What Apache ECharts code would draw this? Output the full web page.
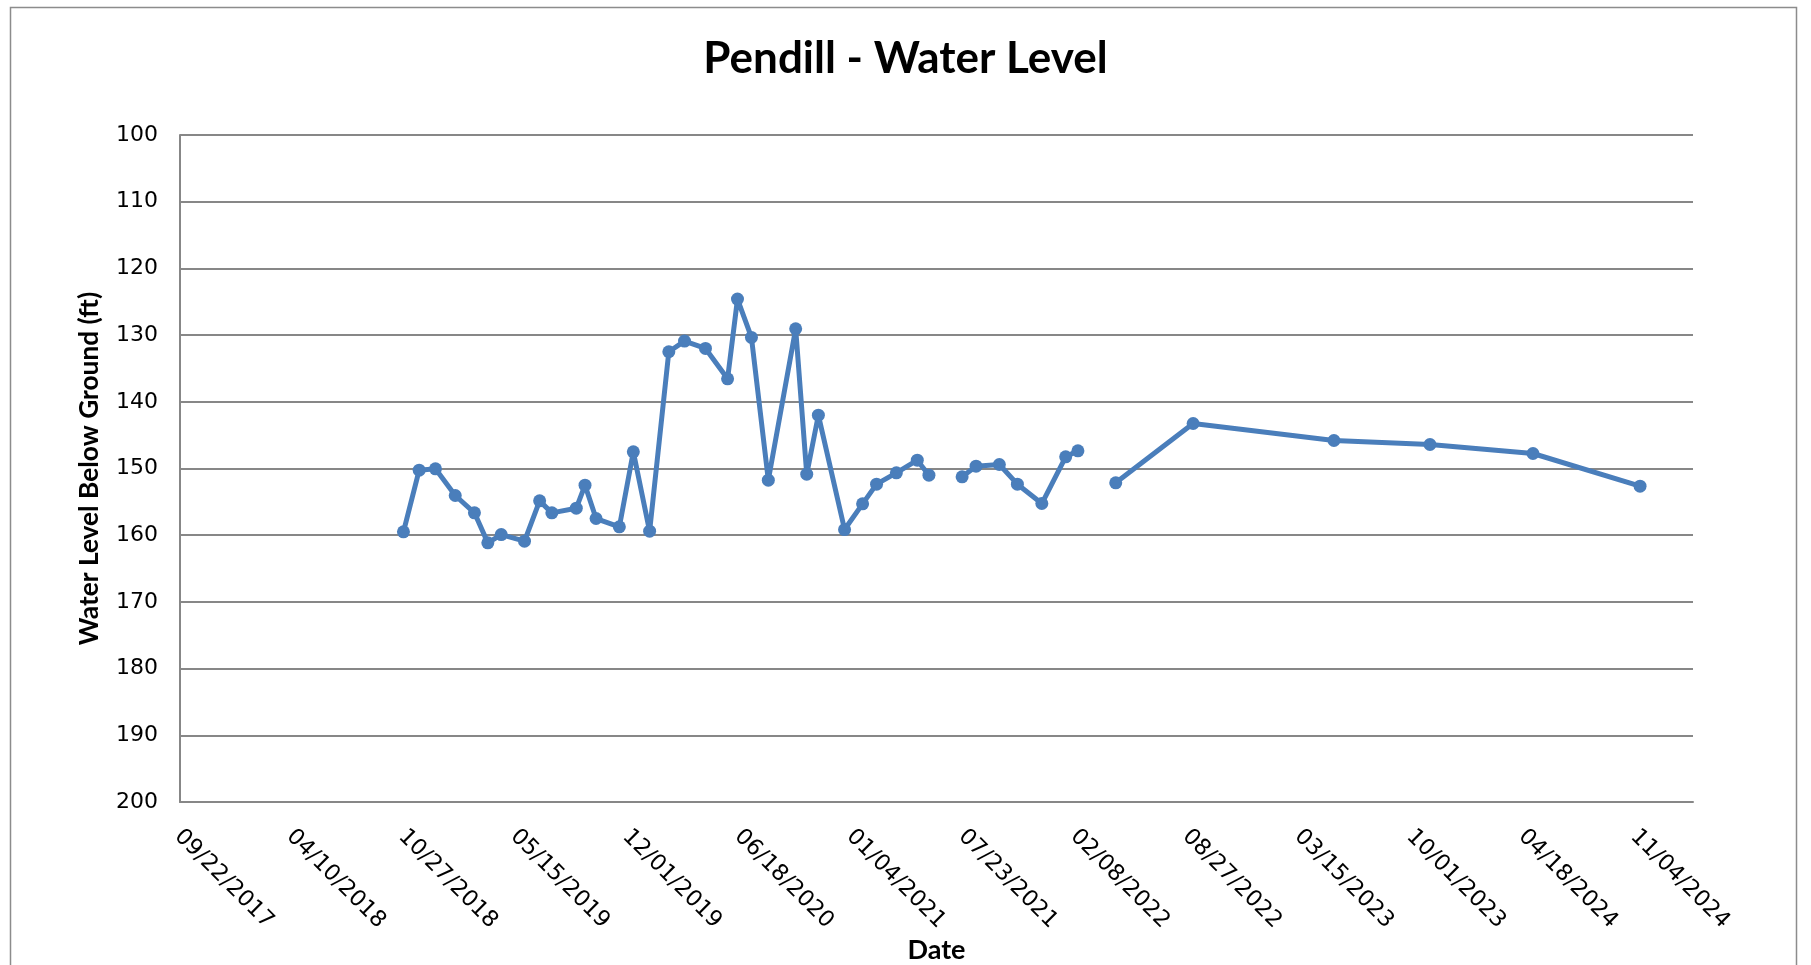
<!DOCTYPE html>
<html>
<head>
<meta charset="utf-8">
<script src="https://cdn.jsdelivr.net/npm/echarts@6/dist/echarts.min.js"></script>
<style>
html,body{margin:0;padding:0;background:#fff;}
#chart{width:1811px;height:965px;}
</style>
</head>
<body>
<div id="chart"></div>
<script>
// ---- data ----
const chartTitle = 'Pendill - Water Level';
const yAxisTitle = 'Water Level Below Ground (ft)';
const xAxisTitle = 'Date';
const axisStartDate = '2017-09-22';
const axisTickDays = 200;
const axisTickCount = 13;
const yMin = 100, yMax = 200, yStep = 10;

const sampleDates = [
  '2018-10-11','2018-11-07','2018-12-05','2019-01-08','2019-02-10','2019-03-05','2019-03-28',
  '2019-05-07','2019-06-02','2019-06-23','2019-08-04','2019-08-19','2019-09-07','2019-10-17',
  '2019-11-10','2019-12-08','2020-01-10','2020-02-06','2020-03-13','2020-04-20','2020-05-07',
  '2020-05-31','2020-06-29','2020-08-15','2020-09-03','2020-09-23','2020-11-07','2020-12-08',
  '2021-01-01','2021-02-04','2021-03-12','2021-04-01',
  '2021-05-01',
  '2021-05-28','2021-06-21','2021-07-31','2021-08-31','2021-10-12','2021-11-22','2021-12-13',
  '2022-01-15',
  '2022-02-16','2022-06-29','2023-02-26','2023-08-10','2024-02-03','2024-08-05'
];
const waterLevels = [
  159.5,150.25,150.05,154.05,156.65,161.15,159.9,
  160.9,154.85,156.65,155.95,152.5,157.5,158.75,
  147.5,159.4,132.5,130.9,132.0,136.55,124.6,
  130.35,151.75,129.05,150.85,142.0,159.15,155.3,
  152.35,150.65,148.75,151.0,
  null,
  151.25,149.65,149.4,152.35,155.25,148.25,147.35,
  null,
  152.15,143.25,145.8,146.4,147.75,152.65
];

// ---- build ----
const DAY = 86400000;
const baseMs = Date.parse(axisStartDate + 'T00:00:00Z');
const toDays = s => Math.round((Date.parse(s + 'T00:00:00Z') - baseMs) / DAY);
const seriesData = sampleDates.map((d, i) => [toDays(d), waterLevels[i]]);
const pad = n => (n < 10 ? '0' : '') + n;
const fmtDay = v => {
  const d = new Date(baseMs + v * DAY);
  return pad(d.getUTCMonth() + 1) + '/' + pad(d.getUTCDate()) + '/' + d.getUTCFullYear();
};

const chart = echarts.init(document.getElementById('chart'));
const gridColor = '#878787';
const xMax = axisTickDays * axisTickCount;
chart.setOption({
  animation: false,
  backgroundColor: '#fff',
  graphic: [{
    type: 'rect', left: 8, top: 5,
    shape: { width: 1786, height: 1000 },
    style: { fill: 'none', stroke: '#8c8c8c', lineWidth: 1.5 }
  }],
  title: {
    text: chartTitle, left: 'center', top: 32,
    textStyle: { fontFamily: 'Lato', fontWeight: 'bold', fontSize: 44, color: '#000' }
  },
  grid: [
    { left: 180, right: 118, top: 135, bottom: 163, containLabel: false, outerBoundsMode: 'none' },
    // label row: Excel spaces the rotated date labels slightly tighter than the ticks
    { left: 178, width: 1456, top: 135, bottom: 163, containLabel: false, outerBoundsMode: 'none' }
  ],
  xAxis: [{
    type: 'value', min: 0, max: xMax, interval: axisTickDays,
    name: xAxisTitle, nameLocation: 'middle', nameGap: 135,
    nameTextStyle: { fontFamily: 'Lato', fontWeight: 'bold', fontSize: 27, color: '#000' },
    axisLine: { show: true, lineStyle: { color: gridColor, width: 2 } },
    axisTick: { show: false },
    splitLine: { show: false },
    axisLabel: { show: false }
  }, {
    type: 'value', gridIndex: 1, min: 0, max: xMax, interval: axisTickDays,
    axisLine: { show: false }, axisTick: { show: false }, splitLine: { show: false },
    axisLabel: {
      rotate: -45, margin: 31, formatter: fmtDay,
      fontFamily: 'DejaVu Sans', fontSize: 22.5, color: '#000'
    }
  }],
  yAxis: [{
    type: 'value', inverse: true, min: yMin, max: yMax, interval: yStep,
    name: yAxisTitle, nameLocation: 'middle', nameGap: 77, nameRotate: 90,
    nameTextStyle: { fontFamily: 'Lato', fontWeight: 'bold', fontSize: 26.3, color: '#000' },
    axisLine: { show: true, lineStyle: { color: gridColor, width: 2 } },
    axisTick: { show: false },
    splitLine: { show: true, lineStyle: { color: gridColor, width: 2 } },
    axisLabel: { margin: 22, fontFamily: 'DejaVu Sans', fontSize: 22, color: '#000' }
  }, {
    type: 'value', gridIndex: 1, inverse: true, min: yMin, max: yMax, show: false
  }],
  series: [{
    type: 'line', data: seriesData, connectNulls: false,
    xAxisIndex: 0, yAxisIndex: 0,
    symbol: 'circle', symbolSize: 13, showSymbol: true,
    lineStyle: { color: '#4a7ebb', width: 5 },
    itemStyle: { color: '#4a7ebb' }
  }]
});
</script>
</body>
</html>
